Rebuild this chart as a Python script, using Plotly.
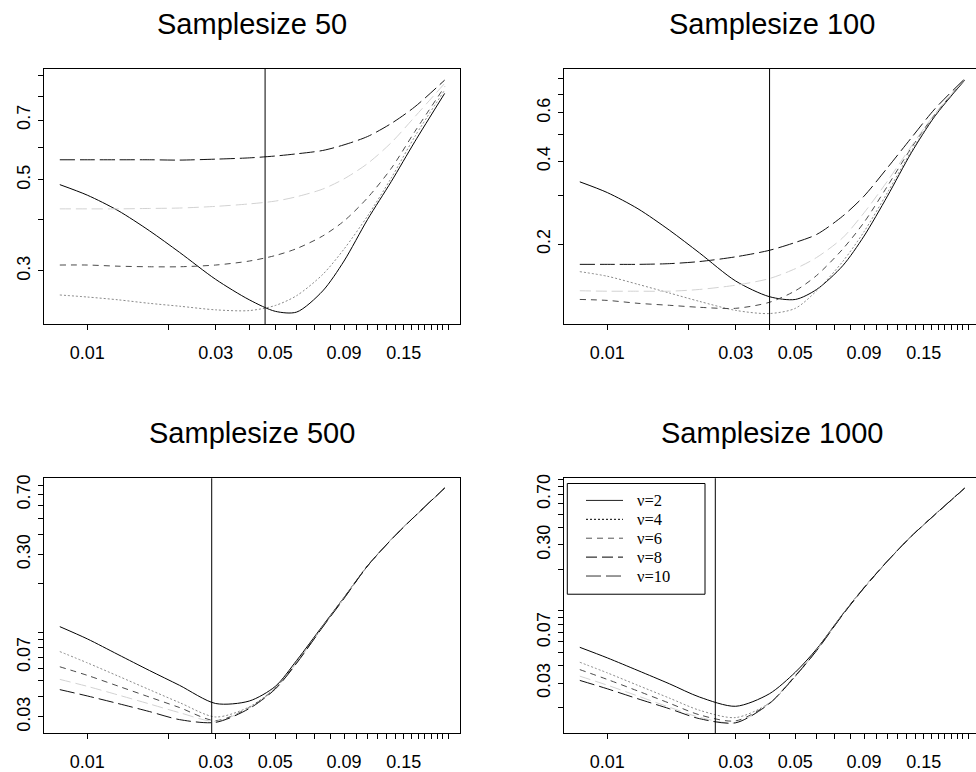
import plotly.graph_objects as go

W, H = 976, 772

# bandwidth grid shared by every panel
h = [0.0079, 0.01, 0.013, 0.017, 0.022, 0.03, 0.04, 0.05, 0.06, 0.075, 0.09, 0.11, 0.135, 0.165, 0.213]

nu_names = ["ν=2", "ν=4", "ν=6", "ν=8", "ν=10"]

# MSE curves, sample size 50
n50_nu2 = [0.487, 0.459, 0.421, 0.376, 0.333, 0.286, 0.255, 0.239, 0.238, 0.268, 0.317, 0.400, 0.496, 0.620, 0.813]
n50_nu4 = [0.262, 0.259, 0.255, 0.250, 0.246, 0.241, 0.240, 0.247, 0.261, 0.294, 0.339, 0.408, 0.506, 0.638, 0.828]
n50_nu6 = [0.310, 0.310, 0.308, 0.307, 0.307, 0.310, 0.317, 0.327, 0.340, 0.365, 0.397, 0.452, 0.534, 0.656, 0.844]
n50_nu8 = [0.425, 0.425, 0.425, 0.426, 0.427, 0.431, 0.437, 0.444, 0.455, 0.475, 0.503, 0.548, 0.617, 0.713, 0.860]
n50_nu10 = [0.560, 0.560, 0.560, 0.560, 0.559, 0.562, 0.566, 0.572, 0.579, 0.590, 0.609, 0.638, 0.687, 0.754, 0.876]

# sample size 100
n100_nu2 = [0.337, 0.308, 0.269, 0.225, 0.186, 0.147, 0.129, 0.126, 0.137, 0.167, 0.214, 0.299, 0.430, 0.583, 0.788]
n100_nu4 = [0.159, 0.153, 0.143, 0.133, 0.124, 0.115, 0.112, 0.117, 0.1355, 0.173, 0.222, 0.308, 0.436, 0.587, 0.792]
n100_nu6 = [0.126, 0.125, 0.122, 0.120, 0.118, 0.117, 0.123, 0.1355, 0.154, 0.192, 0.240, 0.325, 0.448, 0.592, 0.792]
n100_nu8 = [0.1355, 0.135, 0.135, 0.135, 0.137, 0.142, 0.150, 0.163, 0.179, 0.211, 0.260, 0.339, 0.454, 0.595, 0.794]
n100_nu10 = [0.169, 0.169, 0.169, 0.170, 0.173, 0.180, 0.190, 0.203, 0.217, 0.253, 0.299, 0.379, 0.487, 0.620, 0.797]

# sample size 500
n500_nu2 = [0.1079, 0.0907, 0.0727, 0.0580, 0.0470, 0.0363, 0.0376, 0.0463, 0.0668, 0.1094, 0.1631, 0.2548, 0.3711, 0.5157, 0.769]
n500_nu4 = [0.0758, 0.0646, 0.0536, 0.0442, 0.0368, 0.0300, 0.0346, 0.0454, 0.0652, 0.1084, 0.1623, 0.2548, 0.3711, 0.5157, 0.769]
n500_nu6 = [0.0611, 0.0541, 0.0465, 0.0398, 0.0343, 0.0285, 0.0343, 0.0450, 0.0649, 0.1079, 0.1616, 0.2548, 0.3711, 0.5157, 0.769]
n500_nu8 = [0.0511, 0.0463, 0.0410, 0.0361, 0.0319, 0.0282, 0.0341, 0.0448, 0.0646, 0.1079, 0.1616, 0.2548, 0.3711, 0.5157, 0.769]
n500_nu10 = [0.0442, 0.0404, 0.0363, 0.0324, 0.0289, 0.0278, 0.0338, 0.0446, 0.0643, 0.1073, 0.1608, 0.2548, 0.3711, 0.5157, 0.769]

# sample size 1000
n1000_nu2 = [0.0545, 0.0457, 0.0370, 0.0297, 0.0238, 0.0204, 0.0251, 0.0360, 0.0530, 0.0947, 0.1473, 0.2293, 0.3470, 0.4970, 0.773]
n1000_nu4 = [0.0425, 0.0356, 0.0289, 0.0234, 0.0191, 0.0169, 0.0215, 0.0335, 0.0518, 0.0940, 0.1468, 0.2293, 0.3470, 0.4970, 0.773]
n1000_nu6 = [0.0376, 0.0319, 0.0263, 0.0215, 0.0177, 0.0160, 0.0215, 0.0340, 0.0520, 0.0942, 0.1470, 0.2293, 0.3470, 0.4970, 0.773]
n1000_nu8 = [0.0337, 0.0290, 0.0242, 0.0201, 0.0170, 0.0155, 0.0214, 0.0340, 0.0519, 0.0942, 0.1470, 0.2293, 0.3470, 0.4970, 0.773]
n1000_nu10 = [0.0314, 0.0273, 0.0231, 0.0196, 0.0166, 0.0155, 0.0213, 0.0338, 0.0516, 0.0937, 0.1465, 0.2293, 0.3470, 0.4970, 0.773]

# selected bandwidth per sample size (vertical reference lines)
h_selected = [0.0458, 0.0401, 0.0290, 0.0252]

titles = ["Samplesize 50", "Samplesize 100", "Samplesize 500", "Samplesize 1000"]

# x ticks every 0.01, only some labelled
x_tickvals = [round(0.01 * k, 2) for k in range(1, 23)]
x_labelled = ["0.01", "0.03", "0.05", "0.09", "0.15"]

# y ticks per panel and the labelled subset
y_tickvals = [
    [0.3, 0.4, 0.5, 0.6, 0.7, 0.8, 0.9],
    [0.2, 0.3, 0.4, 0.5, 0.6, 0.7, 0.8],
    [0.03, 0.04, 0.05, 0.06, 0.07, 0.08, 0.09, 0.1, 0.2, 0.3, 0.4, 0.5, 0.6, 0.7, 0.8],
    [0.02, 0.03, 0.04, 0.05, 0.06, 0.07, 0.08, 0.09, 0.1, 0.2, 0.3, 0.4, 0.5, 0.6, 0.7, 0.8, 0.9],
]
y_labelled = [
    {0.3: "0.3", 0.5: "0.5", 0.7: "0.7"},
    {0.2: "0.2", 0.4: "0.4", 0.6: "0.6"},
    {0.03: "0.03", 0.07: "0.07", 0.3: "0.30", 0.7: "0.70"},
    {0.03: "0.03", 0.07: "0.07", 0.3: "0.30", 0.7: "0.70"},
]

panel_series = [
    [n50_nu2, n50_nu4, n50_nu6, n50_nu8, n50_nu10],
    [n100_nu2, n100_nu4, n100_nu6, n100_nu8, n100_nu10],
    [n500_nu2, n500_nu4, n500_nu6, n500_nu8, n500_nu10],
    [n1000_nu2, n1000_nu4, n1000_nu6, n1000_nu8, n1000_nu10],
]

# line styles for the five degrees of freedom
colors = ["#000000", "#8a8a8a", "#4a4a4a", "#d2d2d2", "#111111"]
dashes = ["solid", "2px,2px", "6px,5px", "11px,5px", "15px,5px"]
legend_colors = ["#222222", "#000000", "#555555", "#000000", "#333333"]

# panel frames in pixels: (left, right, top, bottom)
frames = [
    (44.3, 460.0, 65.0, 321.7),
    (564.3, 976.0, 65.0, 321.7),
    (44.3, 460.0, 476.7, 732.7),
    (564.3, 976.0, 476.7, 732.7),
]
x_ranges = [
    [-2.160, -0.6145],
    [-2.160, -2 + (976 - 607.3) / 269.0],
    [-2.160, -0.6145],
    [-2.160, -2 + (976 - 607.3) / 269.0],
]
y_ranges = [
    [-0.6526, -0.0295],
    [-0.9889, -0.0613],
    [-1.621, -0.0534],
    [-1.883, -0.0398],
]
title_y = [20.5, 20.5, 431.5, 431.5]

font_family = "Liberation Sans, Arial, sans-serif"
serif_family = "Liberation Serif, Times New Roman, serif"


def px(xp):
    return xp / W


def py(yp):
    return 1 - yp / H


fig = go.Figure()
layout = dict(
    width=W, height=H,
    margin=dict(l=0, r=0, t=0, b=0),
    paper_bgcolor="white", plot_bgcolor="white",
    font=dict(family=font_family, size=18, color="black"),
    showlegend=False,
    annotations=[],
    shapes=[],
)

for p in range(4):
    xa = "x" if p == 0 else f"x{p + 1}"
    ya = "y" if p == 0 else f"y{p + 1}"
    left, right, top, bottom = frames[p]
    right_side = p in (1, 3)

    for k in range(5):
        fig.add_trace(go.Scatter(
            x=h, y=panel_series[p][k], mode="lines", name=nu_names[k],
            line=dict(color=colors[k], width=1, dash=dashes[k], shape="spline", smoothing=0.8),
            xaxis=xa, yaxis=ya, hoverinfo="skip",
        ))

    # selected bandwidth
    fig.add_trace(go.Scatter(
        x=[h_selected[p], h_selected[p]], y=[1e-4, 10], mode="lines",
        line=dict(color="black", width=1), xaxis=xa, yaxis=ya, hoverinfo="skip",
    ))

    x_text = [f"{v:.2f}" if f"{v:.2f}" in x_labelled else "" for v in x_tickvals]
    y_text = [y_labelled[p].get(v, "") for v in y_tickvals[p]]

    layout["xaxis" if p == 0 else f"xaxis{p + 1}"] = dict(
        type="log", range=x_ranges[p], domain=[left / W, right / W],
        anchor=ya, showgrid=False, zeroline=False,
        showline=True, mirror=True, linecolor="black", linewidth=1,
        ticks="outside", ticklen=5, tickwidth=1, tickcolor="black",
        tickvals=x_tickvals, ticktext=x_text, ticklabelstandoff=7,
        tickfont=dict(size=18),
    )
    layout["yaxis" if p == 0 else f"yaxis{p + 1}"] = dict(
        type="log", range=y_ranges[p], domain=[1 - bottom / H, 1 - top / H],
        anchor=xa, showgrid=False, zeroline=False,
        showline=True, mirror=(not right_side), linecolor="black", linewidth=1,
        ticks="outside", ticklen=5, tickwidth=1, tickcolor="black",
        tickvals=y_tickvals[p], ticktext=y_text, tickangle=-90, ticklabelstandoff=1,
        tickfont=dict(size=18),
    )
    layout["annotations"].append(dict(
        text=titles[p], xref="paper", yref="paper",
        x=((left + right) / 2 if not right_side else 772.0) / W,
        y=1 - title_y[p] / H, xanchor="center", yanchor="middle",
        showarrow=False, font=dict(size=29, family=font_family, color="black"),
    ))

# legend box in the last panel
leg_left, leg_right, leg_top, leg_bottom = 567.3, 705.0, 482.0, 593.3
layout["shapes"].append(dict(
    type="rect", xref="paper", yref="paper",
    x0=px(leg_left), x1=px(leg_right), y0=py(leg_bottom), y1=py(leg_top),
    line=dict(color="black", width=1), fillcolor="white", layer="above",
))
row_y = [499.0, 518.0, 537.0, 556.0, 575.0]
for k in range(5):
    layout["shapes"].append(dict(
        type="line", xref="paper", yref="paper",
        x0=px(586), x1=px(623), y0=py(row_y[k]), y1=py(row_y[k]),
        line=dict(color=legend_colors[k], width=1, dash=dashes[k]), layer="above",
    ))
    layout["annotations"].append(dict(
        text=nu_names[k], xref="paper", yref="paper",
        x=px(635), y=py(row_y[k] + 0.5), xanchor="left", yanchor="middle",
        showarrow=False, font=dict(size=16.5, family=serif_family, color="black"),
    ))

fig.update_layout(**layout)
fig.write_html("out.html")
